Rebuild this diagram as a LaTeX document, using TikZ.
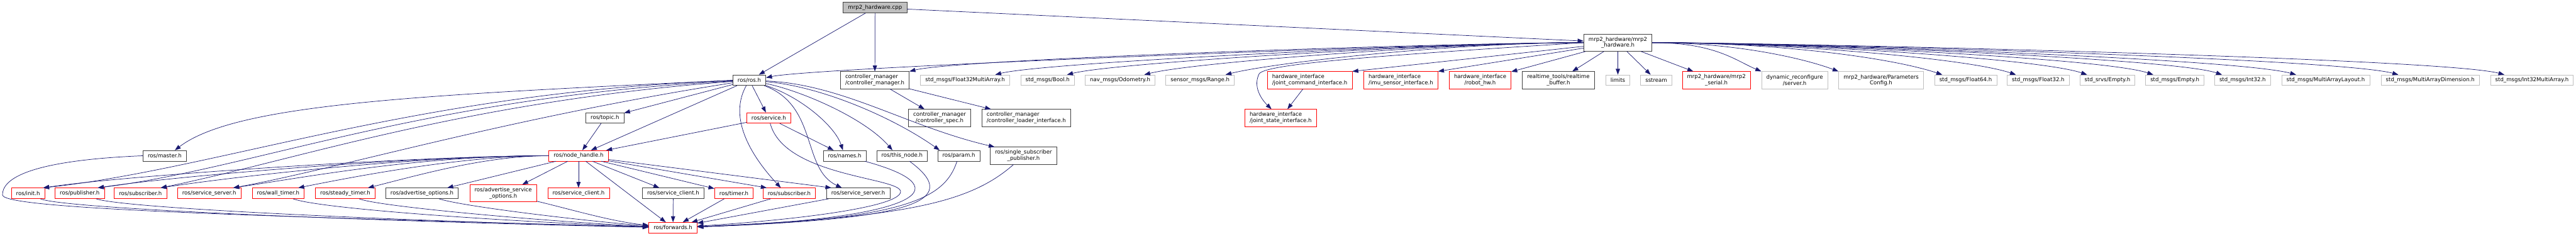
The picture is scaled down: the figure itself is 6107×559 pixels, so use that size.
\documentclass[tikz,border=0pt]{standalone}
\usepackage{fontspec}
\setmainfont{DejaVu Sans}
\usepackage{xcolor}
\usepackage{tikz}
\usetikzlibrary{arrows.meta}

\definecolor{edgeblue}{HTML}{191970}
\definecolor{docgrey}{HTML}{404040}
\definecolor{extgrey}{HTML}{BFBFBF}

\begin{document}
\begin{tikzpicture}[
  x=0.75pt, y=-0.75pt,
  font=\fontsize{9.6}{10.6}\selectfont,
  f/.style={draw, rectangle, fill=white, inner xsep=8.5pt, inner ysep=0pt, minimum height=18.75pt, align=center, line width=0.8pt},
  two/.style={minimum height=30.5pt},
  doc/.style={f, draw=docgrey},
  trunc/.style={f, draw=red},
  ext/.style={f, draw=extgrey},
  root/.style={f, draw=docgrey, fill=extgrey},
  arr/.style={-{Triangle[length=10.5pt, width=7.5pt]}, color=edgeblue, line width=0.8pt}
]
  \useasboundingbox (0,0) rectangle (6107,559);

  % top
  \node[root] (cpp) at (2074.5,18) {mrp2\_hardware.cpp};
  \node[doc, two] (mh) at (3835.5,101) {mrp2\_hardware/mrp2\\\_hardware.h};

  % row of direct includes
  \node[doc] (ros) at (1776.5,190) {ros/ros.h};
  \node[doc, two, align=left] (cm) at (2074,190) {controller\_manager\\/controller\_manager.h};
  \node[ext] (fma) at (2288,190) {std\_msgs/Float32MultiArray.h};
  \node[ext] (bool) at (2483.5,190) {std\_msgs/Bool.h};
  \node[ext] (odom) at (2655.5,190) {nav\_msgs/Odometry.h};
  \node[ext] (range) at (2845,190) {sensor\_msgs/Range.h};
  \node[trunc, two, align=left] (jci) at (3105,190) {hardware\_interface\\/joint\_command\_interface.h};
  \node[trunc, two, align=left] (imu) at (3321,190) {hardware\_interface\\/imu\_sensor\_interface.h};
  \node[trunc, two] (rhw) at (3509,190) {hardware\_interface\\/robot\_hw.h};
  \node[doc, two] (rtb) at (3694.5,190) {realtime\_tools/realtime\\\_buffer.h};
  \node[ext] (lim) at (3835.5,190) {limits};
  \node[ext] (sst) at (3926.5,190) {sstream};
  \node[trunc, two] (ser) at (4069,190) {mrp2\_hardware/mrp2\\\_serial.h};
  \node[ext, two] (dyn) at (4254.5,190) {dynamic\_reconfigure\\/server.h};
  \node[ext, two] (par) at (4459.5,190) {mrp2\_hardware/Parameters\\Config.h};
  \node[ext] (f64) at (4660,190) {std\_msgs/Float64.h};
  \node[ext] (f32) at (4832,190) {std\_msgs/Float32.h};
  \node[ext] (sre) at (4996,190) {std\_srvs/Empty.h};
  \node[ext] (eme) at (5156,190) {std\_msgs/Empty.h};
  \node[ext] (i32) at (5316.5,190) {std\_msgs/Int32.h};
  \node[ext] (mal) at (5513.5,190) {std\_msgs/MultiArrayLayout.h};
  \node[ext] (mad) at (5761.5,190) {std\_msgs/MultiArrayDimension.h};
  \node[ext] (ima) at (6002.5,190) {std\_msgs/Int32MultiArray.h};

  % second level
  \node[doc] (topic) at (1434,279.5) {ros/topic.h};
  \node[trunc] (srv) at (1822.5,279.5) {ros/service.h};
  \node[doc, two] (csp) at (2227.5,279.5) {controller\_manager\\/controller\_spec.h};
  \node[doc, two, align=left] (cli) at (2433,279.5) {controller\_manager\\/controller\_loader\_interface.h};
  \node[trunc, two, align=left] (jsi) at (3036,279.5) {hardware\_interface\\/joint\_state\_interface.h};

  \node[doc] (master) at (390.5,369) {ros/master.h};
  \node[trunc] (nh) at (1371.5,369) {ros/node\_handle.h};
  \node[doc] (names) at (2002.5,369) {ros/names.h};
  \node[doc] (tn) at (2138.5,369) {ros/this\_node.h};
  \node[doc] (param) at (2273,369) {ros/param.h};
  \node[doc, two] (ssp) at (2426.5,369) {ros/single\_subscriber\\\_publisher.h};

  \node[trunc] (init) at (66.5,458) {ros/init.h};
  \node[trunc] (pub) at (189,458) {ros/publisher.h};
  \node[trunc] (subA) at (333,458) {ros/subscriber.h};
  \node[trunc] (ssA) at (496,458) {ros/service\_server.h};
  \node[trunc] (wt) at (659.5,458) {ros/wall\_timer.h};
  \node[trunc] (st) at (818.5,458) {ros/steady\_timer.h};
  \node[doc] (ao) at (1000.5,458) {ros/advertise\_options.h};
  \node[trunc, two] (aso) at (1193,458) {ros/advertise\_service\\\_options.h};
  \node[trunc] (scA) at (1371.5,458) {ros/service\_client.h};
  \node[doc] (scB) at (1596,458) {ros/service\_client.h};
  \node[trunc] (tim) at (1740,458) {ros/timer.h};
  \node[trunc] (subB) at (1871,458) {ros/subscriber.h};
  \node[doc] (ssB) at (2034.5,458) {ros/service\_server.h};

  \node[trunc] (fwd) at (1595.5,539.5) {ros/forwards.h};

  % from the source file
  \draw[arr] (cpp) -- (ros);
  \draw[arr] (cpp) -- (cm);
  \draw[arr] (cpp) -- (mh);

  % mrp2_hardware.h, to the left
  \draw[arr] (mh.west) .. controls +(-300,0) and +(120,-25) .. ([yshift=4.5pt]ros.east);
  \draw[arr] (mh.west) .. controls +(-300,0) and +(120,-30) .. (cm.north east);
  \draw[arr] (mh.west) .. controls +(-300,0) and +(120,-30) .. ([xshift=-26pt]fma.north east);
  \draw[arr] (mh.west) .. controls +(-300,0) and +(120,-30) .. ([xshift=-13.5pt]bool.north east);
  \draw[arr] (mh.west) .. controls +(-300,0) and +(120,-30) .. ([xshift=-19.5pt]odom.north east);
  \draw[arr] (mh.west) .. controls +(-300,0) and +(120,-30) .. ([xshift=-16pt]range.north east);
  \draw[arr] (mh.west) .. controls (3300,130) and (3000,150) .. (2985,175) .. controls (2970,205) and (2990,235) .. (jsi);
  \draw[arr] (mh) -- (jci.north east);
  \draw[arr] (mh) -- (imu.north east);
  \draw[arr] (mh) -- (rhw);
  \draw[arr] (mh) -- (rtb);
  \draw[arr] (mh) -- (lim);
  \draw[arr] (mh) -- (sst);
  \draw[arr] (mh) -- (ser);

  % mrp2_hardware.h, to the right
  \draw[arr] (mh.east) .. controls +(150,0) and +(-60,-25) .. (dyn.north west);
  \draw[arr] (mh.east) .. controls +(200,0) and +(-80,-30) .. (par.north west);
  \draw[arr] (mh.east) .. controls +(300,0) and +(-120,-40) .. ([xshift=14pt]f64.north west);
  \draw[arr] (mh.east) .. controls +(300,0) and +(-120,-40) .. ([xshift=16pt]f32.north west);
  \draw[arr] (mh.east) .. controls +(300,0) and +(-120,-40) .. ([xshift=13.5pt]sre.north west);
  \draw[arr] (mh.east) .. controls +(300,0) and +(-120,-40) .. ([xshift=14pt]eme.north west);
  \draw[arr] (mh.east) .. controls +(300,0) and +(-120,-40) .. ([xshift=13.5pt]i32.north west);
  \draw[arr] (mh.east) .. controls +(300,0) and +(-150,-40) .. ([xshift=26pt]mal.north west);
  \draw[arr] (mh.east) .. controls +(300,0) and +(-150,-40) .. ([xshift=31pt]mad.north west);
  \draw[arr] (mh.east) .. controls +(300,0) and +(-150,-40) .. ([xshift=25pt]ima.north west);

  \draw[arr] (cm) -- (csp);
  \draw[arr] (cm) -- (cli);
  \draw[arr] (jci) -- (jsi);

  % ros/ros.h
  \draw[arr] (ros.west) .. controls (1000,225) and (560,245) .. ([xshift=18pt]master.north);
  \draw[arr] (ros) .. controls (1000,215) and (520,400) .. ([xshift=-3pt]init.north east);
  \draw[arr] (ros) .. controls (1000,230) and (600,400) .. ([xshift=-12pt]pub.north east);
  \draw[arr] (ros) .. controls (1100,240) and (700,380) .. ([xshift=-11pt]subA.north east);
  \draw[arr] (ros) .. controls (1200,280) and (800,400) .. ([xshift=-14pt]ssA.north east);
  \draw[arr] (ros) -- (topic);
  \draw[arr] (ros) -- (nh);
  \draw[arr] (ros) -- (srv);
  \draw[arr] (ros) .. controls (1720,290) and (1800,390) .. ([xshift=-15pt]subB.north);
  \draw[arr] (ros) .. controls (1940,250) and (1900,400) .. ([xshift=-29pt]ssB.north);
  \draw[arr] (ros) .. controls (1900,230) and (1980,300) .. (names);
  \draw[arr] (ros) .. controls (1900,215) and (2050,280) .. ([xshift=-17pt]tn.north);
  \draw[arr] (ros) .. controls (1950,205) and (2120,280) .. ([xshift=4pt]param.north west);
  \draw[arr] (ros) .. controls (2000,200) and (2150,300) .. ([xshift=8pt]ssp.north west);

  \draw[arr] (topic) -- (nh);
  \draw[arr] (srv) -- (nh);
  \draw[arr] (srv) -- (names);
  \draw[arr] (srv) .. controls (1860,420) and (2140,420) .. (2135,455) .. controls (2130,490) and (1900,520) .. (fwd);

  % ros/node_handle.h
  \draw[arr] (nh.west) .. controls +(-300,0) and +(200,-30) .. ([xshift=-3pt]init.north east);
  \draw[arr] (nh.west) .. controls +(-300,0) and +(200,-30) .. ([xshift=-12pt]pub.north east);
  \draw[arr] (nh.west) .. controls +(-300,0) and +(200,-30) .. ([xshift=-11pt]subA.north east);
  \draw[arr] (nh.west) .. controls +(-300,0) and +(200,-30) .. ([xshift=-14pt]ssA.north east);
  \draw[arr] (nh.west) .. controls +(-200,0) and +(150,-30) .. ([xshift=-11pt]wt.north east);
  \draw[arr] (nh.west) .. controls +(-150,0) and +(120,-30) .. ([xshift=-13pt]st.north east);
  \draw[arr] (nh) -- ([xshift=-20pt]ao.north east);
  \draw[arr] (nh) -- ([xshift=-26pt]aso.north east);
  \draw[arr] (nh) -- (scA);
  \draw[arr] (nh) -- (scB);
  \draw[arr] (nh) -- (tim);
  \draw[arr] (nh) -- ([xshift=7pt]subB.north west);
  \draw[arr] (nh) -- ([xshift=9pt]ssB.north west);
  \draw[arr] (nh) -- (fwd);

  % into ros/forwards.h
  \draw[arr] (master.west) .. controls (120,378) and (5,410) .. (6,462) .. controls (8,495) and (600,512) .. (fwd);
  \draw[arr] (init) .. controls (150,495) and (900,525) .. (fwd);
  \draw[arr] (pub) .. controls (300,495) and (1000,525) .. (fwd);
  \draw[arr] (wt) .. controls (760,495) and (1200,525) .. (fwd);
  \draw[arr] (st) .. controls (900,490) and (1300,525) .. (fwd);
  \draw[arr] (ao) .. controls (1100,490) and (1400,525) .. (fwd);
  \draw[arr] (aso) .. controls (1350,495) and (1450,525) .. (fwd);
  \draw[arr] (scB) -- (fwd);
  \draw[arr] (tim) -- (fwd);
  \draw[arr] (subB) -- (fwd);
  \draw[arr] (ssB) -- (fwd);
  \draw[arr] (names) .. controls (2300,450) and (2150,520) .. (fwd);
  \draw[arr] (tn) .. controls (2290,480) and (2150,520) .. (fwd);
  \draw[arr] (param) .. controls (2240,470) and (2150,520) .. (fwd);
  \draw[arr] (ssp) .. controls (2300,480) and (2150,515) .. (fwd);
\end{tikzpicture}
\end{document}
